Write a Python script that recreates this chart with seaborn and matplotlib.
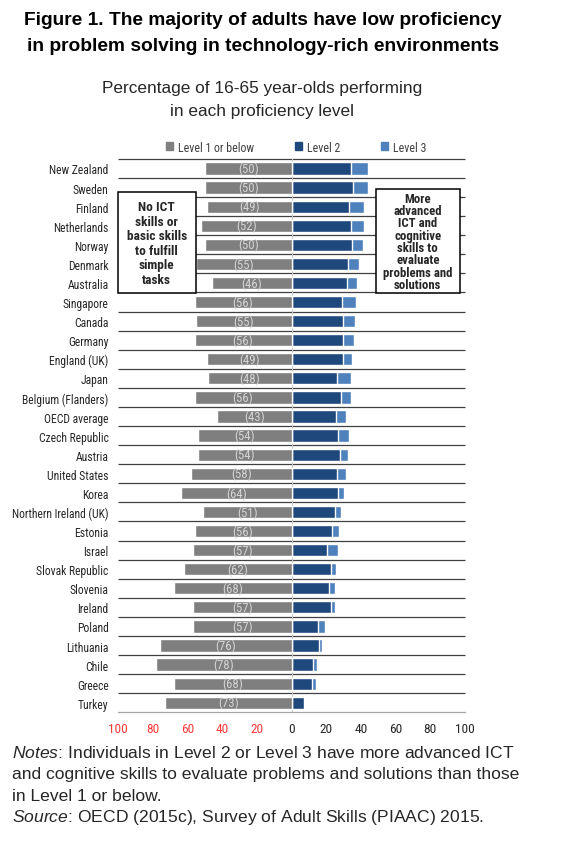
import matplotlib
matplotlib.use("Agg")
import matplotlib.pyplot as plt
from matplotlib import font_manager
from matplotlib.patches import Patch, Rectangle
import seaborn as sns

## data (percent of 16-65 year-olds)
countries = ["New Zealand", "Sweden", "Finland", "Netherlands", "Norway", "Denmark",
             "Australia", "Singapore", "Canada", "Germany", "England (UK)", "Japan",
             "Belgium (Flanders)", "OECD average", "Czech Republic", "Austria",
             "United States", "Korea", "Northern Ireland (UK)", "Estonia", "Israel",
             "Slovak Republic", "Slovenia", "Ireland", "Poland", "Lithuania", "Chile",
             "Greece", "Turkey"]
level1 = [50, 50, 49, 52, 50, 55, 46, 56, 55, 56, 49, 48, 56, 43, 54, 54, 58, 64,
          51, 56, 57, 62, 68, 57, 57, 76, 78, 68, 73]
level2 = [34.2, 35.2, 33.3, 34.2, 34.6, 32.3, 31.9, 29.2, 29.4, 29.4, 29.4, 26.3,
          28.7, 25.6, 26.7, 28.1, 26.0, 26.7, 25.0, 23.5, 20.6, 22.9, 21.5, 22.5,
          15.4, 15.8, 12.5, 11.7, 7.1]
level3 = [9.8, 8.8, 8.3, 7.3, 6.5, 6.3, 5.8, 7.9, 7.3, 6.5, 5.4, 8.1, 5.8, 5.6,
          6.3, 4.6, 5.2, 3.7, 3.7, 3.8, 6.2, 2.7, 3.7, 2.7, 3.8, 1.7, 2.1, 2.3, 0.8]
xticks = [-100, -80, -60, -40, -20, 0, 20, 40, 60, 80, 100]
legend_labels = ["Level 1 or below", "Level 2", "Level 3"]

GRAY = "#7f7f7f"
DARK = "#1f497d"
LIGHT = "#4f81bd"

sns.set_style("white")
plt.rcParams["font.family"] = ["Liberation Sans", "DejaVu Sans"]
plt.rcParams["mathtext.fontset"] = "custom"
plt.rcParams["mathtext.rm"] = "Liberation Sans"
plt.rcParams["mathtext.it"] = "Liberation Sans:italic"

# narrow font for the chart itself (Arial Narrow look)
names = {f.name for f in font_manager.fontManager.ttflist}
narrow = next((n for n in ["Liberation Sans Narrow", "Roboto Condensed"] if n in names), None)
if narrow:
    nfam, k = [narrow, "DejaVu Sans"], 1.0
else:
    nfam, k = ["Liberation Sans", "DejaVu Sans"], 0.82

fig = plt.figure(figsize=(5.66, 8.62), dpi=100)
ax = fig.add_axes([0.209, 0.1725, 0.6125, 0.642])

totals = [a + b for a, b in zip(level2, level3)]
neg1 = [-v for v in level1]
sns.barplot(x=totals, y=countries, orient="h", color=LIGHT, saturation=1,
            width=0.64, ax=ax, zorder=3)
sns.barplot(x=level2, y=countries, orient="h", color=DARK, saturation=1,
            width=0.64, ax=ax, zorder=3)
sns.barplot(x=neg1, y=countries, orient="h", color=GRAY, saturation=1,
            width=0.64, ax=ax, zorder=3)

n = len(countries)
ax.set_xlim(-100, 100)
ax.set_ylim(n - 0.5, -0.5)
ax.hlines([i - 0.5 for i in range(n)], -100, 100, color="#404040", lw=0.9,
          zorder=1, clip_on=False)
ax.axvline(0, color="#c8c8c8", lw=0.8, zorder=2)

# values in brackets inside the grey bars
for i, v in enumerate(level1):
    ax.text(-v / 2, i, f"({v})", ha="center", va="center", color="#d4d4d4",
            fontsize=9.2 * k, family=nfam, zorder=4)

ax.set_xticks(xticks)
ax.set_xticklabels([str(abs(t)) for t in xticks], family=nfam, fontsize=9.6 * k)
for t, lab in zip(xticks, ax.get_xticklabels()):
    lab.set_color("#ff3b3b" if t < 0 else "#262626")
ax.set_yticks(range(n))
ax.set_yticklabels(countries, family=nfam, fontsize=8.4 * k, color="#262626")
ax.tick_params(axis="y", length=0, pad=7)
ax.tick_params(axis="x", direction="in", length=4, color="#a6a6a6", pad=7)
ax.set_xlabel("")
ax.set_ylabel("")
sns.despine(ax=ax, left=True, top=True, right=True)
ax.spines["bottom"].set_color("#a6a6a6")
ax.spines["bottom"].set_linewidth(0.9)

# callout boxes
ax.add_patch(Rectangle((-100, 1.26), 44.6, 5.29, facecolor="white",
                       edgecolor="black", lw=1.1, zorder=5, clip_on=False))
ax.text(-77.8, 3.9, "No ICT\nskills or\nbasic skills\nto fulfill\nsimple\ntasks",
        ha="center", va="center", fontsize=9.6 * k, weight="bold", family=nfam,
        linespacing=1.15, zorder=6)
ax.add_patch(Rectangle((48.5, 1.09), 48.6, 5.46, facecolor="white",
                       edgecolor="black", lw=1.1, zorder=5, clip_on=False))
ax.text(72.8, 3.82, "More\nadvanced\nICT and\ncognitive\nskills to\nevaluate\nproblems and\nsolutions",
        ha="center", va="center", fontsize=9.2 * k, weight="bold", family=nfam,
        linespacing=0.93, zorder=6)

# legend
handles = [Patch(color=c) for c in [GRAY, DARK, LIGHT]]
fig.legend(handles, legend_labels, loc="center", bbox_to_anchor=(296 / 566, 1 - 148 / 862),
           ncol=3, frameon=False, handlelength=0.6, handleheight=0.6,
           handletextpad=0.4, columnspacing=3.4,
           prop={"family": nfam, "size": 8.6 * k}, labelcolor="#404040")

# titles
fig.text(263 / 566, 1 - 33.5 / 862,
         "Figure 1. The majority of adults have low proficiency\n"
         "in problem solving in technology-rich environments",
         ha="center", va="center", fontsize=13.8, weight="bold", linespacing=1.62,
         color="black")
fig.text(262 / 566, 1 - 100 / 862,
         "Percentage of 16-65 year-olds performing\nin each proficiency level",
         ha="center", va="center", fontsize=12.4, linespacing=1.65)

# notes
notes = [r"$\it{Notes}$: Individuals in Level 2 or Level 3 have more advanced ICT",
         "and cognitive skills to evaluate problems and solutions than those",
         "in Level 1 or below.",
         r"$\it{Source}$: OECD (2015c), Survey of Adult Skills (PIAAC) 2015."]
for j, line in enumerate(notes):
    fig.text(12 / 566, 1 - (753.3 + 21.5 * j) / 862, line, ha="left", va="center",
             fontsize=12.6)

fig.savefig("out.png", dpi=100, facecolor="white")
